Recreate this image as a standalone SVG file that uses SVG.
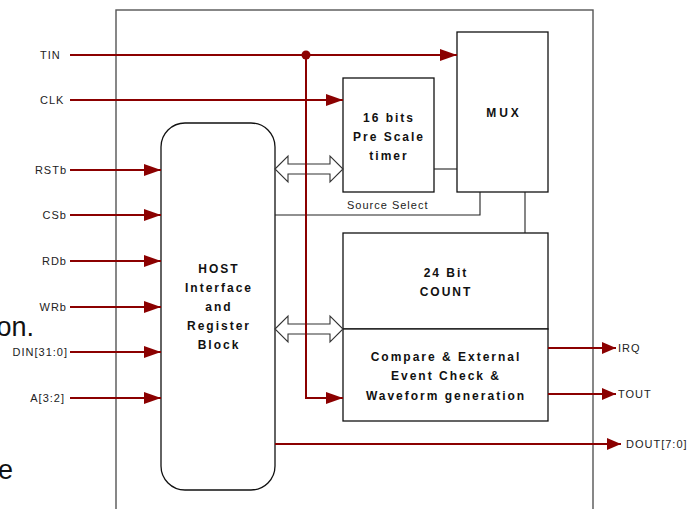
<svg xmlns="http://www.w3.org/2000/svg" width="691" height="509" viewBox="0 0 691 509">
<defs>
<style>
.sig{stroke:#8b0000;stroke-width:2;fill:none}
.box{fill:#fff;stroke:#111;stroke-width:1.3}
.thin{stroke:#222;stroke-width:1.1;fill:none}
.lbl{font-family:"Liberation Sans",Arial,sans-serif;font-size:11px;letter-spacing:1px;fill:#222}
.bl{font-family:"Liberation Sans",Arial,sans-serif;font-size:12px;font-weight:bold;letter-spacing:2px;fill:#111;text-anchor:middle}
.dbl{fill:#fff;stroke:#333;stroke-width:1.1}
.big{font-family:"Liberation Sans",Arial,sans-serif;font-size:27px;fill:#111}
</style>
<marker id="ah" markerUnits="userSpaceOnUse" markerWidth="17" markerHeight="12" refX="17" refY="6" orient="auto">
<path d="M0,0 L17,6 L0,12 z" fill="#8b0000"/>
</marker>
<marker id="ahs" markerUnits="userSpaceOnUse" markerWidth="14" markerHeight="12" refX="14" refY="6" orient="auto">
<path d="M0,0 L14,6 L0,12 z" fill="#8b0000"/>
</marker>
</defs>
<rect width="691" height="509" fill="#fff"/>
<text class="big" x="34" y="336" text-anchor="end">on.</text>
<text class="big" x="13" y="479" text-anchor="end">e</text>
<rect id="outer" x="116" y="10" width="477" height="520" fill="none" stroke="#555" stroke-width="1.4"/>

<g id="host"><rect class="box" x="161" y="123" width="114" height="367" rx="24" ry="24"/>
<text class="bl" x="219" y="273">HOST</text><text class="bl" x="219" y="292">Interface</text><text class="bl" x="219" y="311">and</text><text class="bl" x="219" y="330">Register</text><text class="bl" x="219" y="349">Block</text></g>
<g id="prescale"><rect class="box" x="343" y="78" width="91" height="114"/>
<text class="bl" x="389" y="122">16 bits</text><text class="bl" x="389" y="141">Pre Scale</text><text class="bl" x="389" y="160">timer</text></g>
<g id="mux"><rect class="box" x="457" y="32" width="91" height="160"/>
<text class="bl" x="504" y="117" style="letter-spacing:3px">MUX</text></g>
<g id="count"><rect class="box" x="343" y="233" width="205" height="96"/>
<text class="bl" x="446" y="277">24 Bit</text><text class="bl" x="446" y="296">COUNT</text></g>
<g id="compare"><rect class="box" x="343" y="329" width="205" height="92"/>
<text class="bl" x="446" y="361">Compare &amp; External</text><text class="bl" x="446" y="380">Event Check &amp;</text><text class="bl" x="446" y="400">Waveform generation</text></g>

<g id="connectors">
<path class="thin" d="M434,169 H457"/>
<path class="thin" d="M275,215 H480 V192"/>
<path class="thin" d="M525,192 V233"/>
<text class="lbl" x="347" y="209" style="font-size:11px">Source Select</text>
<path class="dbl" d="M275,169 L288,156 L288,164 L330,164 L330,156 L343,169 L330,182 L330,174 L288,174 L288,182 z"/>
<path class="dbl" d="M275,329 L288,316 L288,324 L330,324 L330,316 L343,329 L330,342 L330,334 L288,334 L288,342 z"/>
<path class="sig" d="M70,55 H457" marker-end="url(#ah)"/>
<circle cx="306" cy="55" r="4.5" fill="#8b0000"/>
<path class="sig" d="M306,55 V398 H343" marker-end="url(#ah)"/>
<path class="sig" d="M70,100 H343" marker-end="url(#ah)"/>
<path class="sig" d="M70,170 H161" marker-end="url(#ah)"/>
<path class="sig" d="M70,215 H161" marker-end="url(#ah)"/>
<path class="sig" d="M70,261 H161" marker-end="url(#ah)"/>
<path class="sig" d="M70,307 H161" marker-end="url(#ah)"/>
<path class="sig" d="M70,352 H161" marker-end="url(#ah)"/>
<path class="sig" d="M70,398 H161" marker-end="url(#ah)"/>
<path class="sig" d="M548,348 H616" marker-end="url(#ahs)"/>
<path class="sig" d="M548,394 H616" marker-end="url(#ahs)"/>
<path class="sig" d="M275,444 H621" marker-end="url(#ahs)"/>
</g>

<g id="labels">
<text class="lbl" x="40" y="59">TIN</text>
<text class="lbl" x="40" y="104">CLK</text>
<text class="lbl" x="67" y="174" text-anchor="end">RSTb</text>
<text class="lbl" x="67" y="219" text-anchor="end">CSb</text>
<text class="lbl" x="67" y="265" text-anchor="end">RDb</text>
<text class="lbl" x="67" y="311" text-anchor="end">WRb</text>
<text class="lbl" x="68" y="356" text-anchor="end">DIN[31:0]</text>
<text class="lbl" x="65" y="402" text-anchor="end">A[3:2]</text>
<text class="lbl" x="618" y="352">IRQ</text>
<text class="lbl" x="618" y="398">TOUT</text>
<text class="lbl" x="626" y="448">DOUT[7:0]</text>
</g>
</svg>
